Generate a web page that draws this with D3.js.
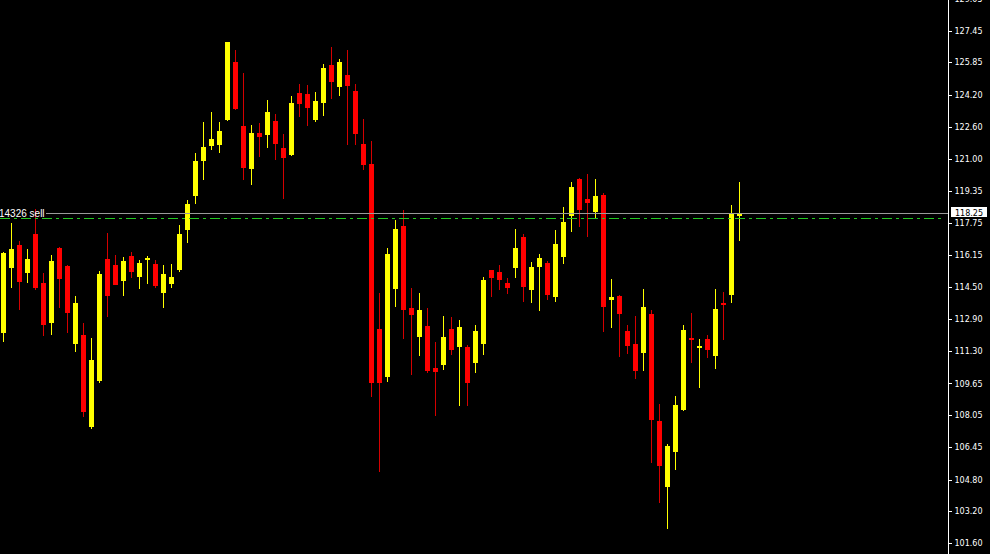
<!DOCTYPE html>
<html>
<head>
<meta charset="utf-8">
<script src="https://cdn.jsdelivr.net/npm/d3@7"></script>
<style>
  html, body { margin: 0; padding: 0; background: #000; overflow: hidden; }
  svg { display: block; }
</style>
</head>
<body>
<div id="chart"></div>
<script>
// ---- Data ----
const openPrices = [
  112.18, 115.49, 116.64, 115.24, 117.19, 114.73, 112.72, 116.50, 115.58, 111.66,
  112.11, 107.47, 109.77, 115.93, 115.63, 114.84, 116.10, 115.04, 115.88, 115.68,
  114.23, 114.68, 115.38, 117.41, 119.12, 120.89, 121.63, 121.68, 122.94, 125.87,
  122.64, 120.47, 122.30, 122.19, 122.91, 121.55, 121.18, 124.32, 124.26, 122.94,
  123.80, 125.73, 124.61, 125.22, 124.42, 121.75, 120.72, 112.40, 109.99, 114.43,
  117.60, 113.46, 112.01, 112.55, 110.43, 110.58, 112.40, 111.51, 111.49, 110.70,
  111.66, 115.38, 115.27, 114.72, 115.49, 117.04, 114.38, 115.54, 115.73, 114.03,
  116.05, 118.12, 119.97, 118.96, 118.32, 119.18, 113.88, 114.06, 112.30, 111.66,
  111.20, 113.16, 107.76, 104.44, 106.21, 108.33, 111.94, 111.45, 111.89, 111.05,
  113.71, 114.13, 118.12
];
const highPrices = [
  116.30, 117.76, 116.84, 116.44, 118.45, 115.24, 116.13, 116.55, 115.62, 114.06,
  112.70, 111.96, 115.34, 117.26, 116.13, 116.05, 116.30, 115.88, 116.08, 115.88,
  115.63, 115.68, 117.65, 118.91, 121.26, 122.84, 123.35, 122.84, 126.90, 126.48,
  125.33, 122.69, 122.79, 123.95, 123.25, 122.24, 124.16, 124.76, 124.71, 124.36,
  125.77, 126.63, 126.02, 126.48, 124.76, 123.00, 121.88, 114.20, 116.47, 117.90,
  118.40, 114.47, 114.20, 113.46, 111.74, 113.05, 113.00, 112.85, 111.59, 112.62,
  115.04, 115.40, 115.63, 114.97, 117.44, 117.19, 115.78, 116.18, 115.83, 117.39,
  118.55, 119.82, 120.02, 120.22, 119.97, 119.25, 114.92, 114.10, 112.60, 113.07,
  114.42, 113.36, 108.61, 106.60, 109.02, 112.60, 113.21, 111.89, 112.11, 114.42,
  114.27, 118.67, 119.82
];
const lowPrices = [
  111.76, 114.48, 113.36, 114.73, 114.37, 112.05, 112.10, 113.47, 112.21, 111.25,
  107.97, 107.37, 109.66, 113.02, 114.60, 114.06, 114.99, 114.42, 114.67, 114.48,
  113.47, 114.48, 115.29, 116.72, 118.71, 119.92, 121.43, 121.29, 122.89, 123.45,
  119.92, 119.66, 121.09, 121.53, 120.94, 118.97, 121.15, 123.10, 122.64, 122.84,
  123.15, 124.00, 124.16, 121.68, 121.68, 120.42, 108.98, 105.20, 109.71, 113.52,
  111.91, 110.09, 111.05, 110.16, 108.02, 110.33, 111.10, 108.51, 108.51, 110.19,
  111.10, 114.03, 114.37, 114.16, 114.99, 113.78, 113.73, 113.32, 113.86, 113.78,
  115.69, 117.31, 117.56, 117.06, 117.96, 112.26, 112.46, 111.00, 111.15, 109.88,
  110.29, 105.65, 103.60, 102.29, 105.30, 108.28, 110.70, 109.44, 110.95, 110.38,
  111.86, 113.73, 116.85
];
const closePrices = [
  116.25, 116.44, 114.79, 115.93, 114.45, 112.60, 115.83, 114.92, 113.22, 113.71,
  108.21, 110.83, 115.17, 114.08, 114.62, 115.83, 115.29, 115.74, 116.00, 114.57,
  115.17, 115.02, 117.19, 118.71, 120.88, 121.58, 122.00, 122.39, 126.88, 123.48,
  120.54, 122.29, 122.09, 123.35, 121.75, 121.04, 123.80, 123.75, 123.55, 123.90,
  125.58, 124.86, 125.87, 124.66, 122.24, 120.67, 109.66, 109.69, 116.18, 117.44,
  113.37, 113.12, 113.36, 110.29, 110.24, 111.99, 111.34, 112.50, 109.69, 112.30,
  114.87, 114.99, 114.87, 114.48, 116.49, 114.53, 115.53, 115.98, 114.11, 116.69,
  117.80, 119.56, 118.42, 118.77, 119.11, 113.52, 114.01, 113.17, 111.56, 110.29,
  113.51, 107.82, 105.50, 106.49, 108.56, 112.35, 111.86, 111.54, 111.34, 113.41,
  113.62, 118.22, 118.25
];
const priceTicks = [
  "129.05", "127.45", "125.85", "124.20", "122.60", "121.00", "119.35", "117.75",
  "116.15", "114.50", "112.90", "111.30", "109.65", "108.05", "106.45", "104.80",
  "103.20", "101.60"
];
const bidPrice = 118.25;
const orderPrice = 117.97;
const orderLabel = "14326 sell";

// ---- Layout ----
const W = 990, H = 554;
const axisX = 948.5;
const N = openPrices.length;
const candles = d3.range(N).map(i => ({
  i, o: openPrices[i], h: highPrices[i], l: lowPrices[i], c: closePrices[i]
}));

const x = d3.scaleBand().domain(d3.range(N)).range([-0.5, -0.5 + 8 * N]).padding(0);
const y = d3.scaleLinear().domain([101.60, 129.05]).range([543, -1]);
const cx = i => x(i) + x.bandwidth() / 2;

const UP = "#ffff00", DOWN = "#ff0000", DOWN_WICK = "#d40000";

const svg = d3.select("#chart").append("svg")
  .attr("width", W).attr("height", H)
  .style("background", "#000");

svg.append("rect").attr("width", W).attr("height", H).attr("fill", "#000");

// Candles: wicks
const g = svg.append("g");
g.selectAll("line.wick").data(candles).join("line")
  .attr("class", "wick")
  .attr("x1", d => cx(d.i)).attr("x2", d => cx(d.i))
  .attr("y1", d => Math.round(y(d.h)))
  .attr("y2", d => Math.round(y(d.l)))
  .attr("stroke", d => d.c >= d.o ? UP : DOWN_WICK)
  .attr("stroke-width", 1)
  .attr("shape-rendering", "crispEdges");

// Candles: bodies
g.selectAll("rect.body").data(candles).join("rect")
  .attr("class", "body")
  .attr("x", d => cx(d.i) - 2.5)
  .attr("width", 5)
  .attr("y", d => Math.round(y(Math.max(d.o, d.c))))
  .attr("height", d => Math.max(2, Math.round(y(Math.min(d.o, d.c))) - Math.round(y(Math.max(d.o, d.c)))))
  .attr("fill", d => d.c >= d.o ? UP : DOWN)
  .attr("shape-rendering", "crispEdges");

// Order line (green dash-dot)
const yOrder = Math.round(y(orderPrice)) - 0.5;
svg.append("line")
  .attr("x1", 0).attr("x2", 941)
  .attr("y1", yOrder).attr("y2", yOrder)
  .attr("stroke", "#22c822").attr("stroke-width", 1.2)
  .attr("stroke-dasharray", "10,4,3,4")
  .attr("shape-rendering", "crispEdges");

// Bid line (gray solid) with order label
const yBid = Math.round(y(bidPrice)) + 0.5;
const lbl = svg.append("text")
  .attr("x", -1).attr("y", yBid + 3)
  .attr("fill", "#ffffff")
  .attr("font-family", "Liberation Sans, Arial, sans-serif")
  .attr("font-size", "10px")
  .text(orderLabel);
const lblW = lbl.node().getComputedTextLength();
svg.append("line")
  .attr("x1", lblW).attr("x2", axisX)
  .attr("y1", yBid).attr("y2", yBid)
  .attr("stroke", "#9a9a9a").attr("stroke-width", 1)
  .attr("shape-rendering", "crispEdges");

// Right price axis
svg.append("line")
  .attr("x1", axisX).attr("x2", axisX)
  .attr("y1", 0).attr("y2", H)
  .attr("stroke", "#ffffff").attr("stroke-width", 1)
  .attr("shape-rendering", "crispEdges");

const axis = d3.axisRight(y)
  .tickValues(priceTicks.map(Number))
  .tickFormat((d, k) => priceTicks[k])
  .tickSize(3).tickPadding(3);
const ax = svg.append("g").attr("transform", `translate(${axisX},0)`).call(axis);
ax.select(".domain").remove();
ax.selectAll(".tick line").attr("stroke", "#fff").attr("shape-rendering", "crispEdges");
ax.selectAll(".tick text")
  .attr("fill", "#fff")
  .attr("font-family", "DejaVu Sans, sans-serif")
  .attr("font-size", "8px");

// Current bid label box
const boxY = y(bidPrice);
svg.append("rect")
  .attr("x", 951).attr("y", Math.round(boxY) - 6)
  .attr("width", 36).attr("height", 10)
  .attr("fill", "#fff");
svg.append("text")
  .attr("x", 969).attr("y", Math.round(boxY) + 3)
  .attr("text-anchor", "middle")
  .attr("fill", "#000")
  .attr("font-family", "DejaVu Sans, sans-serif")
  .attr("font-size", "8px")
  .text(bidPrice.toFixed(2));
</script>
</body>
</html>
